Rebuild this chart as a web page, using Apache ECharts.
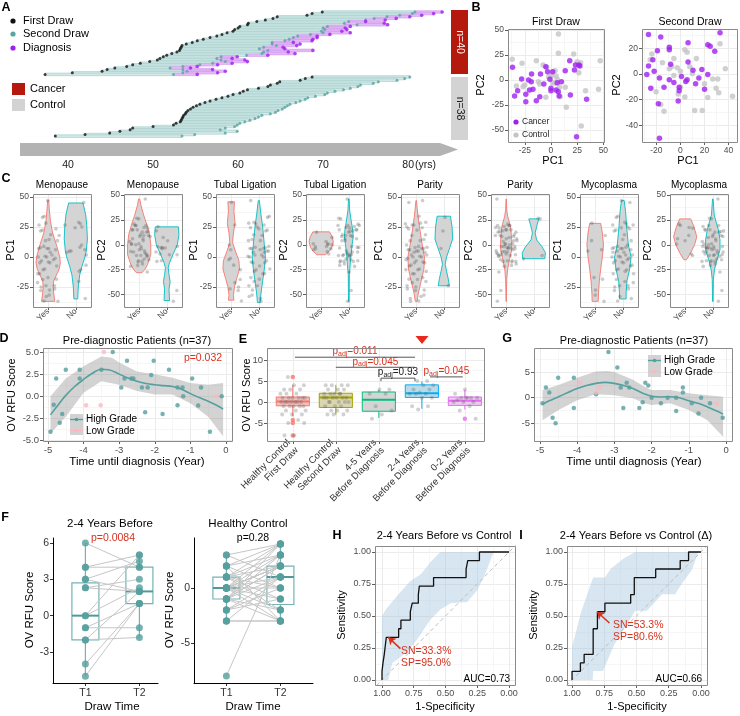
<!DOCTYPE html>
<html>
<head>
<meta charset="utf-8">
<script src="https://cdn.jsdelivr.net/npm/echarts@6.0.0/dist/echarts.min.js"></script>
<style>html,body{margin:0;padding:0;background:#fff;}#chart{width:740px;height:716px;}</style>
</head>
<body>
<div id="chart"></div>
<script>
// ================= DATA =================
// A: sampling timeline (ages, years)
const ageTicks = [40, 50, 60, 70, 80];
const cancerFirst = [69.9,68.7,68.1,64.6,64.1,63.2,62.2,61.2,61.1,60.2,60.0,59.6,59.4,58.7,58.1,57.5,56.7,55.9,55.2,54.6,53.9,53.4,53.3,53.2,53.1,52.8,52.2,51.6,51.2,50.8,50.5,49.6,48.5,47.6,46.9,45.5,44.6,44.0,40.5,37.3];
const cancerSecond = [80.8,80.5,79.0,77.5,76.0,75.0,73.0,72.5,74.0,70.5,70.0,70.2,69.8,70.0,68.5,67.0,66.5,66.0,65.5,64.0,64.0,64.5,63.0,62.5,63.5,63.0,62.8,61.0,58.0,57.5,58.0,58.5,57.0,55.5,53.5,52.0,53.5,54.0,53.5,52.4];
const cancerDiagnosis = [84.0,83.0,81.6,80.2,78.6,77.3,75.0,77.2,77.6,73.2,72.6,72.8,72.2,73.2,70.8,69.3,69.3,68.8,68.7,66.5,67.3,66.9,65.3,65.5,68.8,65.9,66.7,63.5,59.9,59.3,60.8,61.1,59.3,57.6,55.2,54.4,57.0,58.5,57.6,55.2];
const controlFirst = [68.7,67.9,67.3,64.9,64.6,63.8,63.5,62.4,61.1,60.6,60.2,59.4,58.8,58.1,57.4,56.7,56.1,55.5,55.1,54.7,54.4,54.1,53.9,53.8,53.6,53.5,53.4,53.3,53.2,52.7,52.4,50.0,47.6,47.3,46.1,44.9,42.0,38.5];
const controlSecond = [80.2,79.6,78.7,76.5,75.9,74.4,74.1,73.2,72.4,71.4,70.5,70.2,69.1,68.2,67.9,67.3,66.8,66.1,65.8,65.5,65.2,64.7,64.4,63.8,62.8,62.4,62.0,61.4,60.8,60.2,59.9,59.6,58.5,57.9,59.9,58.5,54.9,53.4];

// B: PCA
const pcaFirstCancer = [[-36.7,12.7],[-34.7,-16],[-31.8,-10.7],[-28,1],[-24,-21.7],[-24,-14.3],[-21.4,0],[-20.5,-10],[-18.8,-1.7],[-18.5,6],[-17.2,-9.3],[-14,-20.7],[-10.7,-16.7],[-10,6],[-6.8,-4],[-4.9,13.3],[-3.2,8.3],[-1,0.7],[0,-8.3],[0,-10.7],[1.6,8.3],[4.9,-10],[6,-2.7],[7,-11.7],[7.8,-16],[10,-1.7],[13.6,9.3],[17.9,19.3],[18.5,-15],[22.4,10],[23.4,15],[24.4,-56.7],[26.6,15],[27.6,14],[34,-19.3]];
const pcaFirstControl = [[-37,20.7],[-27.6,16.7],[-25,-5],[-26.6,-6.7],[-33,-6],[-14,19.3],[-12,-1.7],[-10.7,-4],[-7.5,15],[-4.2,12.7],[-4.9,-17.3],[-2.3,3.3],[0.6,4],[1.6,-2.7],[3.9,9.3],[4.9,4],[6,0.7],[7.1,46],[7.1,26.7],[8.1,-7.3],[8.8,-16.7],[13.6,-7.3],[14.6,-27.3],[21.7,26],[25,18.3],[28.2,17.3],[26.6,7.3],[28.9,-46],[33,-10.7],[45.4,-9.3],[47,19.3],[3.9,-3.3]];
const pcaSecondCancer = [[-26.6,30.7],[-16.4,28.8],[-28,-0.5],[-26.6,6.1],[-23,11],[-21.9,2.1],[-24.7,-11.2],[-19.2,18.1],[-17.5,-3.2],[-18.4,-23.2],[-17.5,-50],[-13.7,-10.4],[-9.3,20.8],[-9.3,18.9],[-9.3,-4.5],[-8.2,7.5],[-5.5,-6.7],[-1.1,-10.4],[-1.1,-13.1],[-1.9,-21.1],[0.8,-1.9],[4.4,-5.9],[5.5,-4.5],[6.3,9.3],[6.3,24.3],[10.4,2.9],[12.6,-7.7],[15.3,-3.2],[17.8,3.5],[20,-12],[22.7,-0.5],[22.7,22.7],[24.7,21.6],[28.5,17.6],[32.9,32]];
const pcaSecondControl = [[-25.2,11],[-23.8,15.5],[-20.3,-13.9],[-16.4,-23.7],[-13.7,-29],[-15,8.8],[-9.3,4],[-7.4,5.6],[-5.5,12],[-5.5,-1.3],[-2.7,4.8],[0,2.1],[-1.9,-15.7],[0,-10.4],[3.6,18.9],[5.5,16.8],[3.6,-17.9],[7.7,5.6],[9.9,0.3],[11.8,-28.5],[13.2,12],[18.1,-28.5],[20,-7.7],[22.7,-18.4],[26.8,-4],[29.6,-11.2],[31,-4],[31.8,-14.7],[32.9,23.5],[37.3,4],[43.3,-17.3]];
const pcaFirstXTicks = [-25, 0, 25, 50];
const pcaFirstYTicks = [-50, -25, 0, 25, 50];
const pcaSecondXTicks = [-20, 0, 20, 40];
const pcaSecondYTicks = [-40, -20, 0, 20];

// C: covariates vs first-draw PCs (sample keys: c = cancer index, g = control index)
const covTitles = ['Menopause','Menopause','Tubal Ligation','Tubal Ligation','Parity','Parity','Mycoplasma','Mycoplasma'];
const covPC = ['PC1','PC2','PC1','PC2','PC1','PC2','PC1','PC2'];
const menopauseNo = ['c31','g27','g29','g24','c1','g19','c21','g26','c25','g13','c14','g6','c7','c22','g15','c12','g31','c33'];
const tubalLigationYes = ['g29','g26','c0','g2','g3','c3','c6','c8','g7','c14','g11','c17','g16','c25'];
const parityNo = ['g28','g18','c5','g23'];
const mycoplasmaYes = ['g25','c26','g16','g15','c10','c9','g0','g1','c27','c2'];
// violin outlines: [PC value, half width]
const vMenoPC1Yes = [[47,0.02],[40,0.04],[30,0.08],[20,0.16],[10,0.3],[0,0.42],[-5,0.44],[-10,0.4],[-15,0.3],[-20,0.2],[-25,0.18],[-30,0.2],[-37,0.24]];
const vMenoPC1No = [[45,0.26],[35,0.36],[25,0.4],[15,0.42],[5,0.38],[0,0.33],[-8,0.22],[-15,0.14],[-25,0.09],[-35,0.07]];
const vMenoPC2Yes = [[46,0.02],[40,0.06],[30,0.16],[20,0.28],[10,0.38],[0,0.42],[-10,0.42],[-20,0.3],[-25,0.2],[-28,0.1]];
const vMenoPC2No = [[18,0.42],[10,0.44],[0,0.38],[-10,0.22],[-18,0.1],[-23,0.05],[-30,0.08],[-37,0.12],[-45,0.08],[-56,0.1]];
const vTubalPC1Yes = [[46,0.12],[38,0.1],[28,0.14],[20,0.08],[12,0.05],[5,0.15],[-3,0.28],[-10,0.3],[-18,0.2],[-25,0.12],[-32,0.08],[-36,0.1]];
const vTubalPC1No = [[47,0.02],[35,0.08],[25,0.14],[10,0.2],[0,0.24],[-10,0.2],[-20,0.14],[-30,0.08],[-38,0.05]];
const vTubalPC2Yes = [[13,0.3],[8,0.4],[3,0.44],[-3,0.38],[-7,0.28],[-10,0.15]];
const vTubalPC2No = [[46,0.01],[35,0.03],[25,0.08],[15,0.14],[8,0.16],[0,0.12],[-10,0.08],[-20,0.05],[-30,0.02],[-57,0.01]];
const vParityPC1Yes = [[47,0.01],[35,0.06],[25,0.12],[10,0.22],[0,0.3],[-10,0.28],[-20,0.18],[-30,0.08],[-37,0.03]];
const vParityPC1No = [[34,0.24],[25,0.3],[15,0.32],[8,0.22],[0,0.1],[-6,0.05],[-12,0.1],[-18,0.16],[-24,0.2]];
const vParityPC2Yes = [[46,0.005],[35,0.02],[28,0.06],[18,0.16],[5,0.2],[-5,0.2],[-15,0.12],[-25,0.05],[-35,0.02],[-57,0.005]];
const vParityPC2No = [[26,0.18],[20,0.12],[12,0.05],[5,0.1],[-2,0.3],[-8,0.42],[-14,0.4]];
const vMycoPC1Yes = [[28,0.2],[20,0.26],[10,0.3],[0,0.26],[-10,0.2],[-20,0.15],[-30,0.12],[-37,0.11]];
const vMycoPC1No = [[47,0.05],[38,0.1],[25,0.14],[10,0.2],[0,0.3],[-10,0.25],[-20,0.15],[-30,0.12],[-35,0.12]];
const vMycoPC2Yes = [[26,0.2],[18,0.32],[8,0.42],[0,0.34],[-8,0.2],[-15,0.05]];
const vMycoPC2No = [[46,0.01],[30,0.05],[15,0.2],[5,0.26],[-5,0.26],[-15,0.15],[-25,0.06],[-35,0.02],[-57,0.01]];

// D: pre-diagnostic patients
const dHighGrade = [[-4.93,-4],[-4.84,-0.95],[-4.77,2],[-4.67,-3],[-4.6,-2],[-4.5,3],[-4.11,3],[-4.11,2],[-3.5,3],[-3.18,5],[-2.94,1],[-2.85,2],[-2.78,4],[-2.66,2],[-2.6,2],[-2.36,1],[-2.27,-1.8],[-2.2,1],[-2.1,2.4],[-2.03,4],[-1.78,-2],[-1.6,3],[-1.36,1],[-1.36,-1],[-1.22,1],[-1.2,0],[-0.95,2],[-0.78,-1.05],[-0.7,1],[-0.45,-4],[-0.12,0]];
const dLowGrade = [[-3.93,-1],[-3.52,-1],[-3.43,5],[-0.28,0]];
const dFit = [[-4.93,-2.1],[-4.7,-0.9],[-4.5,0.1],[-4.25,1.1],[-4,1.9],[-3.75,2.6],[-3.5,3.05],[-3.3,3.0],[-3,2.5],[-2.75,2.05],[-2.5,1.7],[-2.25,1.45],[-2,1.3],[-1.75,1.2],[-1.5,1.1],[-1.25,0.8],[-1,0.3],[-0.75,-0.15],[-0.5,-0.57],[-0.25,-1.05],[-0.08,-1.45]];
const dUpper = [[-4.93,0.0],[-4.5,2.0],[-4,3.4],[-3.5,4.5],[-3.2,4.35],[-3,3.8],[-2.5,2.8],[-2,2.5],[-1.5,2.1],[-1,1.5],[-0.5,1.3],[-0.08,1.5]];
const dLower = [[-4.93,-4.2],[-4.5,-2.3],[-4,0.4],[-3.5,1.7],[-3,1.3],[-2.5,0.6],[-2,0.2],[-1.5,0.2],[-1,-0.8],[-0.5,-2.3],[-0.08,-4.5]];

// E: group comparison
const eCategories = ['Healthy Control\nFirst Draw','Healthy Control\nSecond Draw','4-5 Years\nBefore Diagnosis','2-4 Years\nBefore Diagnosis','0-2 Years\nBefore Diagnosis'];
const eHC1 = [6,4,4,3,3,3,2,2,2,1,1,1,1,1,1,0,0,0,0,0,0,0,-1,-1,-1,-1,-1,-2,-2,-2,-3,-3,-3,-4.3,-5,-5,-8,-8];
const eHC2 = [4,4,4,4,3,3,3,2,2,2,2,1,1,1,1,1,0,0,0,0,-1,-1,-1,-2,-2,-2,-3,-3,-3,1,2,0];
const e45 = [3,3,2,2,-1,-2,-3,-4];
const e24 = [5,5,4,4,3,3,2.3,2,2,2,1,1,-1,-1,-1.8];
const e02 = [3,2,1,1,1,1,0.5,0,0,0,-1,-2,-4,1];
const eBoxStats = [[-3.4,-0.9,0.1,1.2,4.1],[-3,-1.3,1.1,2.1,4.1],[-3.8,-2.2,0.55,2.4,2.9],[-1.6,1.1,2.1,4.1,4.9],[-1.8,-0.8,0.3,1.2,2.9]];
const eOutliers = [[1,6],[1,-4.3],[1,-5],[1,-8],[5,-4]];
// [from, to, y, p value, significant]
const eBrackets = [[1.05,3.84,10.7,'0.011',1],[2.0,3.84,8.3,'0.045',1],[3.05,3.84,5.7,'0.93',0],[4.19,4.95,6.0,'0.045',1]];

// G
const gHighGrade = [[-4.93,-1.1],[-4.84,2],[-4.75,1],[-4.66,-3.9],[-4.58,-5],[-4.51,3.9],[-4.09,3.9],[-4.09,-2],[-3.49,0.65],[-3.16,8.9],[-2.92,5.9],[-2.83,2],[-2.76,-2],[-2.67,2.9],[-2.6,2],[-2.33,-2],[-2.24,-0.9],[-2.17,2.9],[-2.09,2.4],[-2,0],[-1.75,-1.1],[-1.57,0],[-1.34,0],[-1.34,-2.6],[-1.16,2],[-1.16,1],[-0.92,-1.1],[-0.74,-3.1],[-0.67,0],[-0.43,-1.1],[-0.09,-3.9]];
const gLowGrade = [[-3.92,2.9],[-3.49,1],[-3.41,2],[-0.25,-1.1]];
const gFit = [[-4.93,-1.3],[-4.75,-0.6],[-4.5,0.2],[-4.25,1.0],[-4,1.8],[-3.75,2.4],[-3.5,2.8],[-3.25,3.0],[-3,2.8],[-2.75,2.4],[-2.5,1.8],[-2.25,0.9],[-2,0.3],[-1.75,0.15],[-1.5,0.2],[-1.25,0.0],[-1,-0.6],[-0.75,-1.1],[-0.5,-1.8],[-0.25,-2.6],[-0.08,-3.2]];
const gUpper = [[-4.93,1.5],[-4.5,2.5],[-4,3.9],[-3.5,5.1],[-3.2,5.2],[-3,5.0],[-2.5,3.5],[-2.2,2.2],[-2,1.5],[-1.5,1.5],[-1,0.85],[-0.5,0.5],[-0.08,0.2]];
const gLower = [[-4.93,-4.4],[-4.5,-2.4],[-4,-0.5],[-3.5,0.65],[-3,0.5],[-2.5,-0.1],[-2.2,-1.1],[-2,-1.4],[-1.5,-1.1],[-1,-2.4],[-0.5,-4.4],[-0.08,-7.6]];

// F: paired draws
const f24T1 = [6,4,4,3,3,2.3,2.3,0,0,-1,-1,-2,-2,-4,-5];
const f24T2 = [4,4,5,2,4.5,2,3,5,2.3,1,-1,2,-1.8,1,1];
const f24Box = [[-5,-2,0,2.7,6],[-1.8,1,2,4,5]];
const fHcT1 = [3,3,2,2,2,1,1,1,1,1,0,0,0,0,0,0,0,0,-1,-1,-1,-1,-1,-1,-2,-2,-2,-3,-3,-3,-8,1,0,2,-1,0];
const fHcT2 = [4,1,3,4,-3,2,4,3,-1,0,2,1,4,-2,3,0,-3,2,1,3,-3,4,2,-2,0,1,-1,1,-3,-3,3,-2,2,0,2,-1];
const fHcBox = [[-3,-1,0,1,3],[-3,-1.5,1,2,4]];

// H, I: ROC  [specificity, sensitivity]
const hRoc = [[1,0],[1,0.067],[0.992,0.067],[0.992,0.133],[0.982,0.133],[0.982,0.2],[0.974,0.2],[0.974,0.267],[0.966,0.267],[0.966,0.333],[0.869,0.333],[0.869,0.4],[0.851,0.4],[0.851,0.467],[0.777,0.467],[0.777,0.533],[0.762,0.533],[0.762,0.6],[0.714,0.6],[0.714,0.667],[0.706,0.667],[0.706,0.733],[0.594,0.733],[0.594,0.8],[0.338,0.8],[0.338,0.867],[0.325,0.867],[0.325,0.933],[0.233,0.933],[0.233,1],[0,1]];
const hUpper = [[1,0.5],[0.97,0.55],[0.87,0.67],[0.78,0.77],[0.69,0.83],[0.62,0.92],[0.54,1],[0,1]];
const hLower = [[1,0],[0.95,0],[0.92,0.13],[0.80,0.22],[0.72,0.32],[0.62,0.47],[0.54,0.55],[0.46,0.6],[0.33,0.61],[0.25,0.7],[0.20,0.8],[0.12,1],[0,1]];
const hCut = [0.95, 0.333];
const iRoc = [[1,0],[1,0.067],[0.935,0.067],[0.935,0.133],[0.906,0.133],[0.906,0.2],[0.836,0.2],[0.836,0.4],[0.803,0.4],[0.803,0.533],[0.745,0.533],[0.745,0.6],[0.545,0.6],[0.545,0.667],[0.517,0.667],[0.517,0.8],[0.351,0.8],[0.351,0.867],[0.161,0.867],[0.161,0.933],[0.096,0.933],[0.096,1],[0,1]];
const iUpper = [[1,0.255],[0.93,0.53],[0.836,0.8],[0.745,0.8],[0.70,0.87],[0.6,0.95],[0.51,1],[0,1]];
const iLower = [[1,0],[0.84,0],[0.836,0.07],[0.76,0.07],[0.67,0.28],[0.54,0.49],[0.51,0.54],[0.42,0.54],[0.3,0.67],[0.2,0.67],[0.15,0.75],[0.07,0.86],[0.02,1],[0,1]];
const iCut = [0.806, 0.533];
const rocTicks = [0, 0.25, 0.5, 0.75, 1];

// ================= BUILD =================
const FONT = '"Liberation Sans", Arial, Helvetica, sans-serif';
const TEAL = '#559f9e';
const PURPLE = '#a020f0';
const REDTXT = '#d8321f';
const grids = [], xAxes = [], yAxes = [], series = [], graphic = [];

function minorVals(o) {
  const t = o.ticks; if (!t || t.length < 2) return [];
  const step = t[1] - t[0], out = [];
  for (let v = t[0] - step / 2 - 10 * step; v <= o.max + 1e-9; v += step) {
    if (v >= o.min - 1e-9) out.push(+v.toFixed(6));
  }
  return out;
}
function mkAxis(gi, o, dim) {
  return {
    type: 'value', gridIndex: gi, min: o.min, max: o.max, inverse: !!o.inverse,
    position: dim === 'x' ? 'bottom' : 'left',
    axisLine: { show: !!o.line, onZero: false, lineStyle: { color: '#000', width: 1 } },
    axisTick: { show: o.tick !== false, customValues: o.ticks || [], length: 3, lineStyle: { color: o.line ? '#000' : '#333', width: 0.8 } },
    axisLabel: { show: o.label !== false, customValues: o.ticks || [], formatter: o.fmt || (v => String(v)),
      color: o.color || '#4d4d4d', fontSize: o.fs || 9, fontFamily: FONT, margin: o.margin == null ? 4 : o.margin,
      rotate: o.rotate || 0, lineHeight: o.lh || undefined, hideOverlap: false },
    splitLine: { show: !!o.grid, lineStyle: { color: '#ebebeb', width: 1 } }
  };
}
function mkMinor(gi, o, dim, show) {
  return { type: 'value', gridIndex: gi, min: o.min, max: o.max, inverse: !!o.inverse,
    position: dim === 'x' ? 'bottom' : 'left',
    axisLine: { show: false }, axisTick: { show: false, customValues: show ? minorVals(o) : [] },
    axisLabel: { show: false }, splitLine: { show: show, lineStyle: { color: '#f4f4f4', width: 0.8 } } };
}
function plot(rect, xo, yo, opt) {
  opt = opt || {};
  const gi = grids.length;
  grids.push({ left: rect[0], top: rect[1], width: rect[2], height: rect[3], show: false });
  const mn = opt.minor || '';
  if (mn) { xAxes.push(mkMinor(gi, xo, 'x', mn.indexOf('x') >= 0)); yAxes.push(mkMinor(gi, yo, 'y', mn.indexOf('y') >= 0)); }
  const xi = xAxes.length; xAxes.push(mkAxis(gi, xo, 'x'));
  const yi = yAxes.length; yAxes.push(mkAxis(gi, yo, 'y'));
  if (opt.border) graphic.push({ type: 'rect', silent: true, z: 60, shape: { x: rect[0] + 0.5, y: rect[1] + 0.5, width: rect[2], height: rect[3] }, style: { fill: 'none', stroke: '#8a8a8a', lineWidth: 1 } });
  return { xAxisIndex: xi, yAxisIndex: yi };
}
function T(x, y, text, o) {
  o = o || {};
  const st = { text: text, fontFamily: FONT, fontSize: o.fs || 11, fontWeight: o.fw || 'normal', fill: o.color || '#000', align: o.align || 'center', verticalAlign: o.va || 'middle' };
  if (o.rich) st.rich = o.rich;
  graphic.push({ type: 'text', x: x, y: y, rotation: o.rot || 0, z: 70, silent: true, style: st });
}
function dot(x, y, r, color) { graphic.push({ type: 'circle', silent: true, z: 70, shape: { cx: x, cy: y, r: r }, style: { fill: color } }); }
function box(x, y, w, h, color) { graphic.push({ type: 'rect', silent: true, z: 65, shape: { x: x, y: y, width: w, height: h }, style: { fill: color } }); }
function jit(i, w) { return ((i * 0.6180339887 + 0.31) % 1 - 0.5) * w; }
function scatter(ax, data, color, size, z, extra) {
  series.push(Object.assign({ type: 'scatter', data: data, symbolSize: size, itemStyle: { color: color }, z: z || 4, silent: true }, ax, extra || {}));
}
function band(ax, upper, lower, fill) {
  series.push(Object.assign({ type: 'custom', silent: true, z: 2, data: [[upper[0][0], upper[0][1]]],
    renderItem: function (p, api) {
      const pts = upper.map(d => api.coord(d)).concat(lower.slice().reverse().map(d => api.coord(d)));
      return { type: 'polygon', shape: { points: pts }, style: { fill: fill } };
    } }, ax));
}
function boxes(ax, stats, xs, width, strokes, fills, medStroke, medW, lw, z) {
  series.push(Object.assign({ type: 'custom', silent: true, z: z || 2, data: stats.map((s, i) => [xs[i], s[2]]),
    renderItem: function (p, api) {
      const i = p.dataIndex, s = stats[i], x = xs[i];
      const half = api.size([width, 0])[0] / 2;
      const c = v => api.coord([x, v]);
      const a = c(s[0]), q1 = c(s[1]), md = c(s[2]), q3 = c(s[3]), b = c(s[4]);
      const col = strokes[i];
      return { type: 'group', children: [
        { type: 'line', shape: { x1: a[0], y1: a[1], x2: q1[0], y2: q1[1] }, style: { stroke: col, lineWidth: lw } },
        { type: 'line', shape: { x1: q3[0], y1: q3[1], x2: b[0], y2: b[1] }, style: { stroke: col, lineWidth: lw } },
        { type: 'rect', shape: { x: q3[0] - half, y: q3[1], width: 2 * half, height: q1[1] - q3[1] }, style: { fill: fills[i], stroke: col, lineWidth: lw } },
        { type: 'line', shape: { x1: md[0] - half, y1: md[1], x2: md[0] + half, y2: md[1] }, style: { stroke: medStroke ? medStroke[i] : col, lineWidth: medW } }
      ] };
    } }, ax));
}

// ---------- Panel A ----------
const CONTROL_ROW_OFFSET = 40.6;
const axA = plot([20, 8, 440, 135],
  { min: 34.35, max: 86.1, ticks: ageTicks, tick: false, fs: 10.5, color: '#1a1a1a', margin: 17 },
  { min: -2.5, max: 81.9, inverse: true, ticks: [], tick: false, label: false });
const segData = [];
cancerFirst.forEach((v, i) => segData.push([v, cancerSecond[i], i, 0]));
controlFirst.forEach((v, j) => segData.push([v, controlSecond[j], CONTROL_ROW_OFFSET + j, 0]));
cancerFirst.forEach((v, i) => segData.push([cancerSecond[i], cancerDiagnosis[i], i, 1]));
series.push(Object.assign({ type: 'custom', silent: true, z: 2, data: segData, encode: { x: [0, 1], y: 2 },
  renderItem: function (p, api) {
    const a = api.coord([api.value(0), api.value(2)]), b = api.coord([api.value(1), api.value(2)]);
    const k = api.value(3);
    return { type: 'rect', shape: { x: a[0], y: a[1] - 1.3, width: b[0] - a[0], height: 2.6 },
      style: { fill: k ? '#e4baf6' : '#d3e9e7', stroke: k ? '#c98cec' : '#8ec3c0', lineWidth: 0.5 } };
  } }, axA));
scatter(axA, cancerSecond.map((v, i) => [v, i]).concat(controlSecond.map((v, j) => [v, CONTROL_ROW_OFFSET + j])), '#5aa5a3', 3, 4);
scatter(axA, cancerDiagnosis.map((v, i) => [v, i]), PURPLE, 3.6, 5);
scatter(axA, cancerFirst.map((v, i) => [v, i]).concat(controlFirst.map((v, j) => [v, CONTROL_ROW_OFFSET + j])), '#111', 3, 6);
T(6, 8, 'A', { fs: 12.5, fw: 'bold' });
dot(13, 21, 2.6, '#111'); T(23, 21, 'First Draw', { align: 'left', fs: 11 });
dot(13, 34, 2.6, '#5aa5a3'); T(23, 34, 'Second Draw', { align: 'left', fs: 11 });
dot(13, 48, 2.6, PURPLE); T(23, 48, 'Diagnosis', { align: 'left', fs: 11 });
box(12, 83, 13, 12, '#b5180d'); T(30, 89, 'Cancer', { align: 'left', fs: 11 });
box(12, 99, 13, 12, '#d3d3d3'); T(30, 105, 'Control', { align: 'left', fs: 11 });
box(451, 10, 17, 64, '#b5180d'); T(459.5, 42, 'n=40', { fs: 10.5, color: '#fff', rot: -Math.PI / 2 });
box(451, 77, 17, 63, '#d3d3d3'); T(459.5, 108.5, 'n=38', { fs: 10.5, color: '#1a1a1a', rot: -Math.PI / 2 });
graphic.push({ type: 'polygon', silent: true, z: 65, shape: { points: [[20, 143], [440, 143], [458, 149.5], [440, 156], [20, 156]] }, style: { fill: '#b3b3b3' } });
T(415, 165, '(yrs)', { align: 'left', fs: 10.5, color: '#1a1a1a' });

// ---------- Panel B ----------
const axB1 = plot([508, 29, 96, 113], { min: -41, max: 50.6, ticks: pcaFirstXTicks, grid: true, fs: 8.5 },
  { min: -62, max: 51, ticks: pcaFirstYTicks, grid: true, fs: 8.5 }, { minor: 'xy', border: true });
scatter(axB1, pcaFirstControl, '#c4c4c4', 5.5, 4);
scatter(axB1, pcaFirstCancer, PURPLE, 5.5, 5);
const axB2 = plot([642, 29, 95, 113], { min: -32, max: 47, ticks: pcaSecondXTicks, grid: true, fs: 8.5 },
  { min: -53, max: 35, ticks: pcaSecondYTicks, grid: true, fs: 8.5 }, { minor: 'xy', border: true });
scatter(axB2, pcaSecondControl, '#c4c4c4', 5.5, 4);
scatter(axB2, pcaSecondCancer, PURPLE, 5.5, 5);
T(476, 8, 'B', { fs: 12.5, fw: 'bold' });
T(556, 22, 'First Draw', { fs: 10.5 }); T(690, 22, 'Second Draw', { fs: 10.5 });
T(553, 161, 'PC1', { fs: 11 }); T(688, 161, 'PC1', { fs: 11 });
T(481, 85, 'PC2', { fs: 11, rot: Math.PI / 2 }); T(617, 85, 'PC2', { fs: 11, rot: Math.PI / 2 });
dot(516, 122, 2.6, PURPLE); T(522, 122, 'Cancer', { align: 'left', fs: 8.5, color: '#222' });
dot(516, 135, 2.6, '#c4c4c4'); T(522, 135, 'Control', { align: 'left', fs: 8.5, color: '#222' });

// ---------- Panel C ----------
const cLefts = [33, 124, 216, 306, 401, 491, 580, 670];
const cSplit = [[menopauseNo, 'No'], [menopauseNo, 'No'], [tubalLigationYes, 'Yes'], [tubalLigationYes, 'Yes'], [parityNo, 'No'], [parityNo, 'No'], [mycoplasmaYes, 'Yes'], [mycoplasmaYes, 'Yes']];
const cViolins = [[vMenoPC1Yes, vMenoPC1No], [vMenoPC2Yes, vMenoPC2No], [vTubalPC1Yes, vTubalPC1No], [vTubalPC2Yes, vTubalPC2No],
  [vParityPC1Yes, vParityPC1No], [vParityPC2Yes, vParityPC2No], [vMycoPC1Yes, vMycoPC1No], [vMycoPC2Yes, vMycoPC2No]];
const sampleKeys = pcaFirstCancer.map((_, i) => 'c' + i).concat(pcaFirstControl.map((_, i) => 'g' + i));
function sampleValue(key, dim) { const arr = key[0] === 'c' ? pcaFirstCancer : pcaFirstControl; return arr[+key.slice(1)][dim]; }
const vColors = ['#F8766D', '#00BFC4'];
for (let p = 0; p < 8; p++) {
  const isPC1 = covPC[p] === 'PC1';
  const yo = isPC1 ? { min: -41.7, max: 52.5, ticks: [-25, 0, 25, 50] } : { min: -62.5, max: 51, ticks: [-50, -25, 0, 25, 50] };
  const ax = plot([cLefts[p], 194, 58, 113],
    { min: 0.45, max: 2.55, ticks: [1, 2], fmt: v => (v === 1 ? 'Yes' : 'No'), rotate: 45, grid: true, fs: 8.5, margin: 3 },
    Object.assign({ grid: true, fs: 8.5 }, yo), { minor: 'y', border: true });
  cViolins[p].forEach((prof, k) => {
    const center = k + 1;
    series.push(Object.assign({ type: 'custom', silent: true, z: 2, data: [[center, prof[0][0]]],
      renderItem: function (pp, api) {
        const right = prof.map(d => api.coord([center + d[1], d[0]]));
        const left = prof.slice().reverse().map(d => api.coord([center - d[1], d[0]]));
        return { type: 'polygon', shape: { points: right.concat(left) }, style: { fill: '#d4d4d4', stroke: vColors[k], lineWidth: 0.9 } };
      } }, ax));
  });
  const small = cSplit[p][0], smallLabel = cSplit[p][1];
  const pts = sampleKeys.map((key, i) => {
    const inSmall = small.indexOf(key) >= 0;
    const grp = inSmall ? smallLabel : (smallLabel === 'Yes' ? 'No' : 'Yes');
    return [(grp === 'Yes' ? 1 : 2) + jit(i + p * 7, 0.8), sampleValue(key, isPC1 ? 0 : 1)];
  });
  scatter(ax, pts, 'rgba(70,70,70,0.35)', 3.6, 4);
  T(cLefts[p] + 29, 185, covTitles[p], { fs: 10 });
  T(cLefts[p] - 22, 250, covPC[p], { fs: 11, rot: Math.PI / 2 });
}
T(6, 179, 'C', { fs: 12.5, fw: 'bold' });

// ---------- Panel D ----------
const axD = plot([43, 348, 189, 93], { min: -5.14, max: 0.17, ticks: [-5, -4, -3, -2, -1, 0], grid: true, fs: 9.5 },
  { min: -5.05, max: 5.45, ticks: [-5, -2.5, 0, 2.5, 5], grid: true, fs: 9.5, fmt: v => v.toFixed(1) }, { minor: 'xy', border: true });
band(axD, dUpper, dLower, 'rgba(150,150,150,0.42)');
series.push(Object.assign({ type: 'line', data: dFit, smooth: 0.4, showSymbol: false, silent: true, z: 3, lineStyle: { color: TEAL, width: 1.6 } }, axD));
scatter(axD, dHighGrade, TEAL, 4.5, 4);
scatter(axD, dLowGrade, '#ffb6c1', 4.5, 4);
T(4, 339, 'D', { fs: 12.5, fw: 'bold' });
T(137, 341, 'Pre-diagnostic Patients (n=37)', { fs: 11 });
T(203, 358, 'p=0.032', { fs: 10.5, color: REDTXT });
T(137, 462, 'Time until diagnosis (Year)', { fs: 11.5 });
T(12, 395, 'OV RFU Score', { fs: 11, rot: Math.PI / 2 });
box(70, 414, 13, 21, '#d2d2d2');
graphic.push({ type: 'line', silent: true, z: 70, shape: { x1: 70, y1: 419.5, x2: 83, y2: 419.5 }, style: { stroke: TEAL, lineWidth: 1.4 } });
dot(76.5, 419.5, 1.8, TEAL);
graphic.push({ type: 'line', silent: true, z: 70, shape: { x1: 70, y1: 430.5, x2: 83, y2: 430.5 }, style: { stroke: '#ffb6c1', lineWidth: 1.4 } });
dot(76.5, 430.5, 1.8, '#ffb6c1');
T(86, 419.5, 'High Grade', { align: 'left', fs: 10 });
T(86, 431, 'Low Grade', { align: 'left', fs: 10 });

// ---------- Panel E ----------
const eColors = ['#F8766D', '#A3A500', '#00BF7D', '#00B0F6', '#E76BF3'];
const eFills = ['#ecc2be', '#d9d6b0', '#d4d4d4', '#b9dbe9', '#e9cbee'];
const axE = plot([267, 348, 217, 93],
  { min: 0.4, max: 5.445, ticks: [1, 2, 3, 4, 5], grid: true, fs: 9.5, color: '#333', rotate: 45, fmt: v => eCategories[v - 1], margin: 4, lh: 11 },
  { min: -9.3, max: 12.9, ticks: [-5, 0, 5, 10], grid: true, fs: 9.5 }, { minor: 'y', border: true });
boxes(axE, eBoxStats, [1, 2, 3, 4, 5], 0.77, eColors, eFills, null, 2, 1, 2);
scatter(axE, eOutliers.map(o => ({ value: o, itemStyle: { color: eColors[o[0] - 1] } })), '#000', 4.5, 3);
const eAll = [eHC1, eHC2, e45, e24, e02];
const ePts = [];
eAll.forEach((arr, k) => arr.forEach((v, i) => ePts.push([k + 1 + jit(i + k * 11, 0.6), v])));
scatter(axE, ePts, 'rgba(90,90,90,0.35)', 4, 4);
series.push(Object.assign({ type: 'custom', silent: true, z: 5, data: eBrackets.map(b => [b[0], b[2]]),
  renderItem: function (p, api) {
    const b = eBrackets[p.dataIndex];
    const a = api.coord([b[0], b[2]]), c = api.coord([b[1], b[2]]);
    const ch = [{ type: 'line', shape: { x1: a[0], y1: a[1], x2: c[0], y2: c[1] }, style: { stroke: '#555', lineWidth: 1 } }];
    if (!b[4]) {
      ch.push({ type: 'line', shape: { x1: a[0], y1: a[1], x2: a[0], y2: a[1] + 3 }, style: { stroke: '#555', lineWidth: 1 } });
      ch.push({ type: 'line', shape: { x1: c[0], y1: c[1], x2: c[0], y2: c[1] + 3 }, style: { stroke: '#555', lineWidth: 1 } });
    }
    ch.push({ type: 'text', x: (a[0] + c[0]) / 2, y: a[1] - 5.5, style: { text: '{a|p}{b|adj}{a|=' + b[3] + '}', align: 'center', verticalAlign: 'middle',
      fill: b[4] ? REDTXT : '#222', fontFamily: FONT, rich: { a: { fontSize: 10, fontFamily: FONT, lineHeight: 12, fill: b[4] ? REDTXT : '#222' }, b: { fontSize: 7, fontFamily: FONT, verticalAlign: 'bottom', lineHeight: 12, fill: b[4] ? REDTXT : '#222' } } } });
    return { type: 'group', children: ch };
  } }, axE));
graphic.push({ type: 'polygon', silent: true, z: 70, shape: { points: [[415.5, 336], [428.5, 336], [422, 344]] }, style: { fill: '#e8291c' } });
T(243, 340, 'E', { fs: 12.5, fw: 'bold' });
T(247, 395, 'OV RFU Score', { fs: 11, rot: Math.PI / 2 });

// ---------- Panel G ----------
const axG = plot([534, 348, 198, 93], { min: -5.16, max: 0.16, ticks: [-5, -4, -3, -2, -1, 0], grid: true, fs: 9.5 },
  { min: -8.45, max: 9.7, ticks: [-5, 0, 5], grid: true, fs: 9.5 }, { minor: 'xy', border: true });
band(axG, gUpper, gLower, 'rgba(150,150,150,0.42)');
series.push(Object.assign({ type: 'line', data: gFit, smooth: 0.4, showSymbol: false, silent: true, z: 3, lineStyle: { color: TEAL, width: 1.6 } }, axG));
scatter(axG, gHighGrade, TEAL, 4.5, 4);
scatter(axG, gLowGrade, '#ffb6c1', 4.5, 4);
T(507, 339, 'G', { fs: 12.5, fw: 'bold' });
T(634, 341, 'Pre-diagnostic Patients (n=37)', { fs: 11 });
T(634, 462, 'Time until diagnosis (Year)', { fs: 11.5 });
box(648, 355, 13, 22, '#d2d2d2');
graphic.push({ type: 'line', silent: true, z: 70, shape: { x1: 648, y1: 360.5, x2: 661, y2: 360.5 }, style: { stroke: TEAL, lineWidth: 1.4 } });
dot(654.5, 360.5, 1.8, TEAL);
graphic.push({ type: 'line', silent: true, z: 70, shape: { x1: 648, y1: 371.5, x2: 661, y2: 371.5 }, style: { stroke: '#ffb6c1', lineWidth: 1.4 } });
dot(654.5, 371.5, 1.8, '#ffb6c1');
T(664, 360.5, 'High Grade', { align: 'left', fs: 10 });
T(664, 372, 'Low Grade', { align: 'left', fs: 10 });

// ---------- Panel F ----------
function pairPanel(rect, ymin, ymax, yticks, t1, t2, stats) {
  const ax = plot(rect, { min: 0.4, max: 0.4 + rect[2] / 54, ticks: [1, 2], fmt: v => (v === 1 ? 'T1' : 'T2'), line: true, fs: 10.5, color: '#333', margin: 5 },
    { min: ymin, max: ymax, ticks: yticks, line: true, fs: 10.5, color: '#333', margin: 4 }, {});
  boxes(ax, stats, [1, 2], 0.5, ['#74b3b2', '#74b3b2'], ['rgba(255,255,255,0)', 'rgba(255,255,255,0)'], ['#4f9998', '#4f9998'], 2, 1.2, 2);
  series.push(Object.assign({ type: 'custom', silent: true, z: 3, data: t1.map((v, i) => [v, t2[i]]),
    renderItem: function (p, api) {
      const a = api.coord([1, api.value(0)]), b = api.coord([2, api.value(1)]);
      return { type: 'line', shape: { x1: a[0], y1: a[1], x2: b[0], y2: b[1] }, style: { stroke: '#c6c6c6', lineWidth: 1 } };
    } }, ax));
  scatter(ax, t1.map(v => [1, v]).concat(t2.map(v => [2, v])), TEAL, 7, 4);
  return ax;
}
pairPanel([53, 538, 105, 145], -5.56, 6.41, [-3, 0, 3, 6], f24T1, f24T2, f24Box);
pairPanel([194, 538, 119, 145], -8.64, 4.55, [-5, 0], fHcT1, fHcT2, fHcBox);
T(5, 518, 'F', { fs: 12.5, fw: 'bold' });
T(110, 524, '2-4 Years Before', { fs: 11.5 });
T(113, 538, 'p=0.0084', { fs: 10.5, color: REDTXT });
T(248, 524, 'Healthy Control', { fs: 11.5 });
T(253, 538, 'p=0.28', { fs: 10.5 });
T(30, 610, 'OV RFU Score', { fs: 11.5, rot: Math.PI / 2 });
T(170, 610, 'OV RFU Score', { fs: 11.5, rot: Math.PI / 2 });
T(112, 707, 'Draw Time', { fs: 11.5 });
T(253, 707, 'Draw Time', { fs: 11.5 });

// ---------- Panels H, I ----------
function rocPanel(rect, xmin, xmax, roc, upper, lower, cut, arrowFrom) {
  const ax = plot(rect, { min: xmin, max: xmax, inverse: true, ticks: rocTicks, grid: true, fs: 9, fmt: v => v.toFixed(2) },
    { min: -0.04, max: 1.047, ticks: rocTicks, grid: true, fs: 9, fmt: v => v.toFixed(2) }, { minor: 'xy', border: true });
  band(ax, upper, lower, 'rgba(160,196,222,0.42)');
  series.push(Object.assign({ type: 'line', data: [[1.2, -0.2], [-0.2, 1.2]], showSymbol: false, silent: true, z: 3, clip: true,
    lineStyle: { color: '#bdbdbd', width: 1, type: [4, 3] } }, ax));
  series.push(Object.assign({ type: 'line', data: roc, showSymbol: false, silent: true, z: 4, lineStyle: { color: '#111', width: 1.3 } }, ax));
  series.push(Object.assign({ type: 'lines', coordinateSystem: 'cartesian2d', silent: true, z: 5, symbol: ['none', 'arrow'], symbolSize: 7,
    lineStyle: { color: REDTXT, width: 1.6, opacity: 1 }, data: [{ coords: [arrowFrom, cut] }] }, ax));
  return ax;
}
rocPanel([375, 546, 140, 139], -0.047, 1.055, hRoc, hUpper, hLower, hCut, [0.855, 0.245]);
rocPanel([567, 546, 140, 139], -0.047, 1.039, iRoc, iUpper, iLower, iCut, [0.71, 0.445]);
T(337, 536, 'H', { fs: 12.5, fw: 'bold' });
T(444, 536, '2-4 Years Before vs Control', { fs: 11 });
T(521, 536, 'I', { fs: 12.5, fw: 'bold' });
T(636, 536, '2-4 Years Before vs Control (\u0394)', { fs: 11 });
T(445, 707, '1-Specificity', { fs: 11 });
T(637, 707, '1-Specificity', { fs: 11 });
T(342, 615, 'Sensitivity', { fs: 11, rot: Math.PI / 2 });
T(534, 615, 'Sensitivity', { fs: 11, rot: Math.PI / 2 });
T(401, 651, 'SN=33.3%', { align: 'left', fs: 10.5, color: REDTXT });
T(401, 663, 'SP=95.0%', { align: 'left', fs: 10.5, color: REDTXT });
T(613, 625, 'SN=53.3%', { align: 'left', fs: 10.5, color: REDTXT });
T(613, 637, 'SP=80.6%', { align: 'left', fs: 10.5, color: REDTXT });
T(510, 679, 'AUC=0.73', { align: 'right', fs: 10 });
T(702, 679, 'AUC=0.66', { align: 'right', fs: 10 });

// ================= RENDER =================
const chart = echarts.init(document.getElementById('chart'), null, { renderer: 'canvas' });
chart.setOption({
  animation: false,
  backgroundColor: '#fff',
  textStyle: { fontFamily: FONT },
  grid: grids, xAxis: xAxes, yAxis: yAxes, series: series,
  graphic: { elements: graphic }
});
</script>
</body>
</html>
